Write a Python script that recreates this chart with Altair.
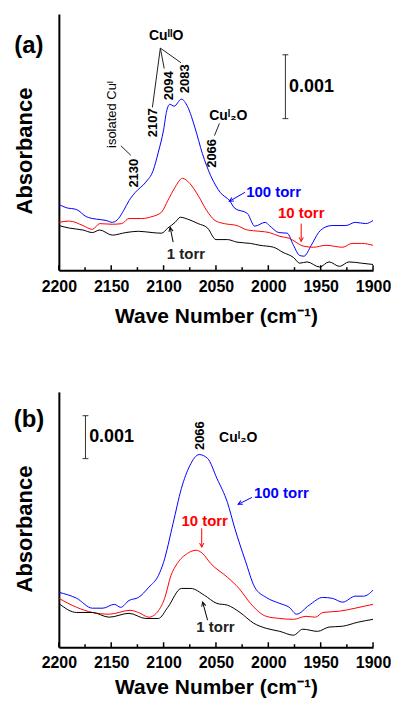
import altair as alt
import pandas as pd

FONT = "Liberation Sans"
SERIES = ["100 torr", "10 torr", "1 torr"]
COLORS = ["#0000ff", "#ff0000", "#000000"]

# ---------------- panel (a) spectra (absorbance in units of 0.001) ----------------
a_blue_wn = [2200, 2193, 2183, 2174, 2164, 2155, 2149, 2143, 2138, 2133, 2127, 2117, 2110, 2105, 2100, 2097,
             2094, 2090, 2083, 2077, 2070, 2063, 2055, 2050, 2046, 2037, 2032, 2020, 2013, 2003, 1999, 1990,
             1982, 1976, 1970, 1966, 1959, 1952, 1945, 1939, 1926, 1917, 1907, 1900]
a_blue_v = [1.03, 0.98, 0.95, 0.84, 0.80, 0.78, 0.75, 0.81, 0.94, 1.09, 1.22, 1.38, 1.56, 1.85, 2.20, 2.50,
            2.60, 2.57, 2.68, 2.56, 2.23, 1.83, 1.48, 1.32, 1.22, 1.09, 0.97, 0.89, 0.69, 0.75, 0.70, 0.59,
            0.58, 0.39, 0.23, 0.22, 0.39, 0.59, 0.68, 0.70, 0.70, 0.75, 0.73, 0.78]

a_red_wn = [2200, 2190, 2177, 2168, 2161, 2149, 2140, 2133, 2121, 2111, 2102, 2096, 2089, 2082, 2075, 2067,
            2059, 2051, 2042, 2030, 2020, 2008, 1999, 1989, 1980, 1967, 1957, 1945, 1929, 1920, 1911, 1900]
a_red_v = [0.75, 0.77, 0.70, 0.64, 0.73, 0.72, 0.73, 0.81, 0.81, 0.84, 0.91, 1.09, 1.30, 1.44, 1.36, 1.17,
           0.94, 0.78, 0.73, 0.70, 0.63, 0.61, 0.59, 0.53, 0.50, 0.38, 0.36, 0.39, 0.36, 0.42, 0.42, 0.39]

a_black_wn = [2200, 2190, 2177, 2168, 2161, 2149, 2136, 2124, 2111, 2102, 2096, 2089, 2084, 2077, 2067, 2058,
              2050, 2039, 2030, 2017, 2008, 1995, 1986, 1976, 1970, 1963, 1951, 1942, 1932, 1923, 1911, 1900]
a_black_v = [0.70, 0.66, 0.63, 0.59, 0.63, 0.55, 0.59, 0.61, 0.59, 0.58, 0.66, 0.75, 0.83, 0.80, 0.73, 0.66,
             0.48, 0.48, 0.44, 0.42, 0.39, 0.36, 0.28, 0.20, 0.11, 0.13, 0.05, 0.13, 0.06, 0.13, 0.11, 0.09]

# ---------------- panel (b) spectra ----------------
b_blue_wn = [2200, 2183, 2168, 2158, 2147, 2141, 2133, 2124, 2114, 2105, 2100, 2091, 2083, 2075, 2066, 2058,
             2049, 2039, 2032, 2022, 2013, 2002, 1989, 1980, 1973, 1961, 1948, 1939, 1929, 1917, 1909, 1900]
b_blue_v = [1.28, 1.14, 0.91, 0.91, 1.00, 0.93, 1.09, 1.16, 1.40, 1.67, 1.98, 2.88, 3.70, 4.23, 4.49, 4.40,
            3.93, 3.37, 2.77, 2.02, 1.40, 1.16, 1.02, 0.93, 0.77, 0.98, 1.16, 1.14, 1.05, 1.19, 1.19, 1.33]

b_red_wn = [2200, 2183, 2168, 2152, 2132, 2124, 2114, 2107, 2099, 2093, 2087, 2077, 2069, 2063, 2055, 2039,
            2028, 2017, 2002, 1989, 1976, 1964, 1955, 1948, 1932, 1917, 1900]
b_red_v = [1.14, 0.93, 0.81, 0.77, 0.86, 0.81, 0.70, 0.79, 1.14, 1.67, 1.95, 2.19, 2.26, 2.19, 1.95, 1.63,
           1.37, 1.02, 0.72, 0.67, 0.65, 0.72, 0.70, 0.81, 0.84, 0.91, 1.00]

b_black_wn = [2200, 2183, 2168, 2152, 2133, 2117, 2105, 2096, 2083, 2074, 2061, 2049, 2039, 2027, 2014, 2002,
              1989, 1976, 1967, 1953, 1942, 1929, 1915, 1900]
b_black_v = [1.02, 0.81, 0.81, 0.70, 0.79, 0.67, 0.67, 0.93, 1.37, 1.37, 1.21, 1.02, 0.98, 0.81, 0.56, 0.44,
             0.37, 0.28, 0.42, 0.37, 0.47, 0.49, 0.58, 0.65]

# ---------------- axis ticks ----------------
major_ticks = [2200, 2150, 2100, 2050, 2000, 1950, 1900]
minor_ticks = [2175, 2125, 2075, 2025, 1975, 1925]

# ---------------- annotations, panel (a) ----------------
a_num_labels = ["2130", "2107", "2094", "2083", "2066"]
a_num_wn = [2128.5, 2109.7, 2094.7, 2079.6, 2054.2]
a_num_v = [1.52, 2.31, 2.89, 3.00, 1.83]

a_leader_x = [2140.8, 2103.1, 2103.1, 2103.1, 2051.4]
a_leader_y = [1.95, 3.48, 3.48, 3.48, 2.11]
a_leader_x2 = [2131.3, 2110.7, 2099.4, 2083.4, 2046.7]
a_leader_y2 = [1.80, 2.55, 3.16, 3.25, 2.30]

a_arrow_x = [2022.3, 1968.6, 2090.9]
a_arrow_y = [1.22, 0.73, 0.44]
a_arrow_x2 = [2037.3, 1968.6, 2093.7]
a_arrow_y2 = [1.08, 0.45, 0.67]
a_arrow_angle = [241, 180, 349]

a_torr_wn = [1995.0, 1968.6, 2078.7]
a_torr_v = [1.23, 0.89, 0.25]

a_scale_wn, a_scale_lo, a_scale_hi = 1983.7, 2.375, 3.375

# ---------------- annotations, panel (b) ----------------
b_arrow_x = [2015.7, 2063.6, 2058.0]
b_arrow_y = [3.49, 2.77, 0.63]
b_arrow_x2 = [2028.8, 2063.6, 2062.7]
b_arrow_y2 = [3.33, 2.33, 1.05]
b_arrow_angle = [243, 180, 345]

b_torr_wn = [1987.5, 2060.8, 2050.5]
b_torr_v = [3.60, 2.93, 0.47]

b_scale_wn, b_scale_lo, b_scale_hi = 2174.6, 4.395, 5.395

XSCALE = alt.Scale(domain=[1900, 2200], reverse=True, nice=False, zero=False)
ARROW_COLORS = ["#9a9aff", "#ff9a9a", "#9a9a9a"]
ARROW_SHAPE = "M -0.5 1 L 0 0 L 0.5 1"
PLOT_W = 315


def spectra_df(triples):
    rows = []
    for name, wns, vs in triples:
        for w, v in zip(wns, vs):
            rows.append({"wn": w, "v": v, "series": name})
    return pd.DataFrame(rows)


def X(field="wn"):
    return alt.X(f"{field}:Q", scale=XSCALE)


def Y(ysc, field="v"):
    return alt.Y(f"{field}:Q", scale=ysc)


def text_layer(df, ysc, size, color="black", weight="bold", angle=0, align="center"):
    return alt.Chart(df).mark_text(font=FONT, fontSize=size, fontWeight=weight, color=color,
                                   angle=angle, align=align, baseline="middle").encode(
        x=X(), y=Y(ysc), text="t:N")


def panel(spec, ymax, H, tag, tag_y, scale, arrows, torr, extra_text, leaders, num_labels,
          label_pad, title_pad):
    ysc = alt.Scale(domain=[0, ymax], nice=False, zero=False)
    lines = alt.Chart(spec).mark_line(strokeWidth=1, clip=True, interpolate="monotone").encode(
        x=alt.X("wn:Q", scale=XSCALE,
                axis=alt.Axis(values=major_ticks, format="d", title="Wave Number (cm⁻¹)",
                              labelFont=FONT, labelFontSize=16, labelFontWeight="bold", labelColor="black",
                              labelPadding=label_pad, labelOverlap=False, labelFlush=False, tickSize=0,
                              grid=False, domainWidth=2, domainColor="black", titleFont=FONT,
                              titleFontSize=21, titleFontWeight="bold", titleColor="black",
                              titlePadding=title_pad)),
        y=alt.Y("v:Q", scale=ysc,
                axis=alt.Axis(title="Absorbance", labels=False, ticks=False, grid=False, domainWidth=2,
                              domainColor="black", titleFont=FONT, titleFontSize=22, titleFontWeight="bold",
                              titleColor="black", titlePadding=22, titleY=137)),
        color=alt.Color("series:N", scale=alt.Scale(domain=SERIES, range=COLORS), legend=None),
        detail="series:N")

    ticks_major = alt.Chart(pd.DataFrame({"wn": major_ticks})).mark_rule(color="black", strokeWidth=1.5).encode(
        x=X(), y=alt.value(H), y2=alt.value(H - 5))
    ticks_minor = alt.Chart(pd.DataFrame({"wn": minor_ticks})).mark_rule(color="black", strokeWidth=1.5).encode(
        x=X(), y=alt.value(H), y2=alt.value(H - 3))

    s_wn, s_lo, s_hi = scale
    bar = alt.Chart(pd.DataFrame({"wn": [s_wn], "v": [s_lo], "v2": [s_hi]})).mark_rule(
        color="#333", strokeWidth=1).encode(x=X(), y=Y(ysc), y2="v2:Q")
    caps = alt.Chart(pd.DataFrame({"wn": [s_wn + 2.8, s_wn + 2.8], "wn2": [s_wn - 2.8, s_wn - 2.8],
                                   "v": [s_lo, s_hi]})).mark_rule(color="#333", strokeWidth=1).encode(
        x=X(), x2="wn2:Q", y=Y(ysc))
    bar_text = text_layer(pd.DataFrame({"wn": [s_wn - 3.5], "v": [(s_lo + s_hi) / 2], "t": ["0.001"]}),
                          ysc, 18, align="left")

    ax, ay, ax2, ay2, aang = arrows
    arr_df = pd.DataFrame({"wn": ax, "v": ay, "wn2": ax2, "v2": ay2, "ang": aang, "series": SERIES})
    acol = alt.Color("series:N", scale=alt.Scale(domain=SERIES, range=ARROW_COLORS), legend=None)
    arr_lines = alt.Chart(arr_df).mark_rule(strokeWidth=1).encode(
        x=X(), y=Y(ysc), x2="wn2:Q", y2="v2:Q", color=acol)
    arr_heads = alt.Chart(arr_df).mark_point(shape=ARROW_SHAPE, filled=False, strokeWidth=1, size=70,
                                             opacity=1).encode(
        x=X("wn2"), y=Y(ysc, "v2"), angle=alt.Angle("ang:Q", scale=None), color=acol)

    tw, tv = torr
    torr_layers = [text_layer(pd.DataFrame({"wn": [tw[i]], "v": [tv[i]], "t": [SERIES[i]]}), ysc, 15,
                              color=["#0000ff", "#ff0000", "#222222"][i]) for i in range(3)]

    tag_layer = alt.Chart(pd.DataFrame({"t": [tag]})).mark_text(
        font=FONT, fontSize=24, fontWeight="bold", color="black", align="center", baseline="middle").encode(
        x=alt.value(-30), y=alt.value(tag_y), text="t:N")

    layers = [lines, ticks_major, ticks_minor, bar, caps, bar_text, arr_lines, arr_heads] + torr_layers + [tag_layer]

    if leaders is not None:
        lx, ly, lx2, ly2 = leaders
        layers.append(alt.Chart(pd.DataFrame({"wn": lx, "v": ly, "wn2": lx2, "v2": ly2})).mark_rule(
            color="#222", strokeWidth=1).encode(x=X(), y=Y(ysc), x2="wn2:Q", y2="v2:Q"))

    nl, nw, nv = num_labels
    layers.append(text_layer(pd.DataFrame({"wn": nw, "v": nv, "t": nl}), ysc, 13, angle=270))

    for (t, w, v, size, weight, ang) in extra_text:
        layers.append(text_layer(pd.DataFrame({"wn": [w], "v": [v], "t": [t]}), ysc, size,
                                 weight=weight, angle=ang))

    return alt.layer(*layers).properties(width=PLOT_W, height=H)


spec_a = spectra_df([("100 torr", a_blue_wn, a_blue_v), ("10 torr", a_red_wn, a_red_v),
                     ("1 torr", a_black_wn, a_black_v)])
spec_b = spectra_df([("100 torr", b_blue_wn, b_blue_v), ("10 torr", b_red_wn, b_red_v),
                     ("1 torr", b_black_wn, b_black_v)])

pa = panel(spec_a, 4.016, 257, "(a)", 32, (a_scale_wn, a_scale_lo, a_scale_hi),
           (a_arrow_x, a_arrow_y, a_arrow_x2, a_arrow_y2, a_arrow_angle),
           (a_torr_wn, a_torr_v),
           [("isolated Cuᴵ", 2149.0, 2.44, 13, "normal", 270),
            ("CuᴵᴵO", 2097.5, 3.67, 14, "bold", 0),
            ("Cuᴵ₂O", 2038.2, 2.42, 14, "bold", 0)],
           (a_leader_x, a_leader_y, a_leader_x2, a_leader_y2),
           (a_num_labels, a_num_wn, a_num_v), 8, 11)

pb = panel(spec_b, 5.95, 256, "(b)", 28, (b_scale_wn, b_scale_lo, b_scale_hi),
           (b_arrow_x, b_arrow_y, b_arrow_x2, b_arrow_y2, b_arrow_angle),
           (b_torr_wn, b_torr_v),
           [("Cuᴵ₂O", 2028.8, 4.88, 14, "bold", 0)],
           None,
           (["2066"], [2065.5], [4.93]), 7, 6)

chart = alt.vconcat(pa, pb, spacing=66).properties(
    padding={"left": 5, "top": 5, "right": 0, "bottom": 0}
).configure_view(stroke=None)

chart.save("out.html", embed_options={"renderer": "svg", "actions": False})
